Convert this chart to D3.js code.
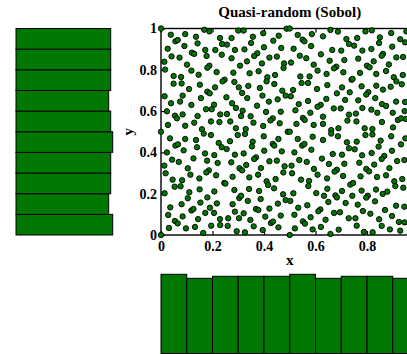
<!DOCTYPE html>
<html><head><meta charset="utf-8">
<script src="https://cdn.jsdelivr.net/npm/d3@7"></script>
<style>html,body{margin:0;padding:0;overflow:hidden;background:#fff;width:407px;height:354px}</style>
</head><body><div id="chart"></div>
<script>
// Points (x, y in data units)
const sobolPoints = [
[0,1],[0.168,0.994],[0.188,0.986],[0.300,0.990],[0.038,0.970],[0.094,0.973],[0.136,0.960],[0.229,0.954],[0.274,0.954],[0.056,0.938],[0.065,0.944],[0.142,0.928],[0.237,0.925],[0.256,0.922],[0.091,0.915],[0.026,0.902],[0.172,0.896],[0.211,0.896],[0.287,0.896],[0.120,0.883],[0.129,0.877],[0.041,0.865],[0.072,0.859],[0.177,0.867],[0.236,0.873],[0.274,0.856],[0.013,0.839],[0.101,0.825],[0.188,0.820],[0.180,0.810],[0.307,0.820],[0.016,0.801],[0.118,0.796],[0.216,0.789],[0.281,0.786],[0.146,0.776],[0.049,0.770],[0.078,0.765],[0.247,0.752],[0.239,0.744],[0.285,0.741],[0.049,0.733],[0.080,0.734],[0.151,0.728],[0.210,0.715],[0.109,0.707],[0.302,0.715],[0.180,0.694],[0.189,0.686],[0.014,0.672],[0.084,0.675],[0.155,0.663],[0.254,0.667],[0.039,0.638],[0.074,0.646],[0.118,0.630],[0.206,0.631],[0.276,0.638],[0.023,0.599],[0.175,0.609],[0.197,0.609],[0.291,0.615],[0.054,0.578],[0.062,0.565],[0.084,0.584],[0.142,0.576],[0.230,0.584],[0.256,0.586],[0.269,0.550],[0.311,0.576],[0.027,0.533],[0.094,0.529],[0.129,0.544],[0.194,0.550],[0.227,0.547],[0.159,0.512],[0.291,0.517],
[0.321,0.990],[0.397,0.977],[0.488,0.999],[0.5,1],[0.531,0.969],[0.586,0.973],[0.629,0.962],[0.357,0.960],[0.457,0.965],[0.436,0.941],[0.350,0.930],[0.550,0.946],[0.557,0.938],[0.400,0.909],[0.467,0.906],[0.515,0.902],[0.583,0.915],[0.324,0.899],[0.374,0.880],[0.362,0.867],[0.421,0.859],[0.450,0.864],[0.539,0.868],[0.564,0.856],[0.621,0.875],[0.334,0.841],[0.392,0.831],[0.478,0.831],[0.505,0.835],[0.476,0.809],[0.593,0.825],[0.344,0.783],[0.379,0.793],[0.608,0.796],[0.413,0.764],[0.410,0.744],[0.443,0.775],[0.541,0.768],[0.577,0.768],[0.440,0.731],[0.546,0.736],[0.571,0.736],[0.384,0.712],[0.339,0.722],[0.471,0.699],[0.513,0.702],[0.606,0.707],[0.315,0.688],[0.394,0.675],[0.484,0.675],[0.504,0.672],[0.335,0.663],[0.453,0.657],[0.419,0.646],[0.535,0.634],[0.571,0.649],[0.373,0.626],[0.620,0.630],[0.608,0.621],[0.522,0.604],[0.317,0.602],[0.465,0.597],[0.408,0.596],[0.580,0.592],[0.348,0.575],[0.434,0.565],[0.425,0.555],[0.551,0.567],[0.558,0.557],[0.461,0.541],[0.359,0.544],[0.526,0.538],[0.593,0.533],[0.397,0.528],[0.329,0.513],[0.629,0.573],[0.629,0.538],
[0.658,0.993],[0.687,0.985],[0.794,0.986],[0.819,0.991],[0.894,0.978],[0.953,0.986],[0.720,0.949],[0.762,0.954],[0.850,0.957],[0.929,0.948],[0.948,0.933],[0.730,0.925],[0.750,0.917],[0.847,0.930],[0.898,0.912],[0.665,0.896],[0.700,0.893],[0.782,0.893],[0.817,0.901],[0.862,0.877],[0.857,0.868],[0.914,0.860],[0.940,0.862],[0.655,0.844],[0.712,0.847],[0.766,0.854],[0.826,0.841],[0.681,0.815],[0.672,0.807],[0.800,0.820],[0.810,0.812],[0.885,0.826],[0.643,0.780],[0.708,0.788],[0.773,0.785],[0.836,0.780],[0.874,0.794],[0.904,0.764],[0.914,0.744],[0.939,0.775],[0.740,0.752],[0.744,0.756],[0.646,0.726],[0.703,0.715],[0.779,0.720],[0.836,0.723],[0.892,0.718],[0.935,0.730],[0.683,0.686],[0.733,0.691],[0.805,0.692],[0.797,0.680],[0.862,0.704],[0.832,0.663],[0.642,0.659],[0.715,0.654],[0.766,0.652],[0.913,0.646],[0.948,0.644],[0.858,0.634],[0.874,0.625],[0.671,0.613],[0.698,0.613],[0.782,0.615],[0.817,0.607],[0.730,0.583],[0.757,0.588],[0.840,0.592],[0.900,0.592],[0.946,0.600],[0.724,0.554],[0.759,0.550],[0.858,0.547],[0.920,0.557],[0.932,0.565],[0.950,0.562],[0.901,0.521],[0.661,0.508],[0.689,0.517],[0.791,0.517],[0.821,0.513],
[0,0.5],[0.166,0.491],[0.194,0.484],[0.298,0.484],[0.035,0.468],[0.094,0.465],[0.136,0.460],[0.224,0.446],[0.268,0.454],[0.056,0.433],[0.066,0.439],[0.140,0.425],[0.236,0.425],[0.255,0.416],[0.088,0.410],[0.023,0.400],[0.171,0.395],[0.207,0.387],[0.287,0.389],[0.043,0.365],[0.069,0.354],[0.126,0.371],[0.179,0.360],[0.220,0.349],[0.273,0.352],[0.013,0.336],[0.104,0.323],[0.186,0.313],[0.176,0.303],[0.305,0.323],[0.018,0.299],[0.114,0.292],[0.214,0.289],[0.278,0.282],[0.149,0.274],[0.045,0.268],[0.082,0.265],[0.246,0.252],[0.250,0.249],[0.053,0.234],[0.076,0.236],[0.150,0.221],[0.207,0.211],[0.110,0.207],[0.285,0.218],[0.014,0.202],[0.104,0.178],[0.180,0.182],[0.304,0.179],[0.311,0.190],[0.080,0.149],[0.153,0.157],[0.217,0.153],[0.036,0.134],[0.118,0.119],[0.126,0.126],[0.190,0.132],[0.278,0.149],[0.028,0.097],[0.172,0.107],[0.206,0.107],[0.287,0.113],[0.054,0.068],[0.065,0.056],[0.084,0.090],[0.144,0.077],[0.229,0.077],[0.261,0.081],[0.259,0.044],[0.303,0.081],[0.031,0.034],[0.097,0.032],[0.132,0.039],[0.195,0.045],[0.230,0.048],[0.164,0.010],[0.294,0.018],[0,0],
[0.326,0.489],[0.399,0.478],[0.492,0.500],[0.5,0.5],[0.531,0.465],[0.589,0.476],[0.629,0.460],[0.356,0.452],[0.353,0.429],[0.456,0.465],[0.434,0.441],[0.440,0.433],[0.548,0.433],[0.557,0.441],[0.401,0.408],[0.469,0.405],[0.518,0.400],[0.584,0.413],[0.321,0.395],[0.369,0.376],[0.362,0.368],[0.421,0.357],[0.450,0.360],[0.537,0.363],[0.566,0.354],[0.625,0.370],[0.331,0.339],[0.388,0.324],[0.480,0.333],[0.507,0.336],[0.475,0.303],[0.509,0.299],[0.594,0.320],[0.315,0.313],[0.343,0.279],[0.377,0.292],[0.608,0.292],[0.410,0.260],[0.416,0.242],[0.445,0.271],[0.544,0.268],[0.575,0.262],[0.439,0.226],[0.572,0.237],[0.342,0.223],[0.381,0.213],[0.474,0.197],[0.514,0.202],[0.603,0.203],[0.633,0.190],[0.337,0.165],[0.387,0.174],[0.484,0.169],[0.502,0.165],[0.369,0.126],[0.378,0.121],[0.454,0.152],[0.533,0.132],[0.568,0.144],[0.421,0.128],[0.619,0.124],[0.611,0.115],[0.321,0.105],[0.518,0.098],[0.405,0.089],[0.465,0.094],[0.581,0.086],[0.347,0.073],[0.427,0.058],[0.435,0.065],[0.551,0.066],[0.559,0.055],[0.360,0.042],[0.456,0.037],[0.520,0.032],[0.621,0.039],[0.395,0.024],[0.589,0.027],[0.326,0.013],[0.5,0],
[0.661,0.491],[0.687,0.478],[0.794,0.484],[0.821,0.487],[0.894,0.478],[0.722,0.449],[0.760,0.452],[0.853,0.457],[0.932,0.439],[0.949,0.468],[0.730,0.420],[0.752,0.415],[0.845,0.428],[0.897,0.408],[0.667,0.392],[0.703,0.389],[0.781,0.386],[0.818,0.397],[0.867,0.383],[0.857,0.368],[0.917,0.358],[0.945,0.363],[0.652,0.344],[0.712,0.345],[0.770,0.350],[0.828,0.341],[0.887,0.324],[0.683,0.316],[0.674,0.307],[0.797,0.320],[0.808,0.308],[0.645,0.274],[0.707,0.286],[0.775,0.284],[0.839,0.281],[0.874,0.289],[0.906,0.260],[0.910,0.237],[0.937,0.271],[0.735,0.244],[0.746,0.252],[0.646,0.224],[0.703,0.213],[0.779,0.215],[0.835,0.220],[0.879,0.210],[0.941,0.229],[0.677,0.192],[0.683,0.182],[0.743,0.190],[0.803,0.190],[0.797,0.181],[0.861,0.199],[0.650,0.160],[0.717,0.155],[0.764,0.147],[0.831,0.163],[0.913,0.142],[0.945,0.137],[0.870,0.121],[0.672,0.107],[0.695,0.110],[0.784,0.116],[0.813,0.103],[0.847,0.076],[0.729,0.081],[0.755,0.081],[0.897,0.092],[0.639,0.074],[0.924,0.063],[0.946,0.061],[0.690,0.026],[0.760,0.045],[0.857,0.044],[0.889,0.027],[0.658,0.005],[0.788,0.015],[0.822,0.013],[0.929,0.021]
];
// Histogram bins and counts
const binStarts = [0,0.1,0.2,0.3,0.4,0.5,0.6,0.7,0.8,0.9];
const binWidth = 0.1;
const xHistCounts = [51,49,50,50,50,51,49,50,50,49];
const yHistCounts = [51,49,50,50,51,50,49,50,50,50];
const tickValues = [0,0.2,0.4,0.6,0.8,1];
const xTickLabels = ["0","0.2","0.4","0.6","0.8",""];   // the "1" lies beyond the visible window
const yTickLabels = ["0","0.2","0.4","0.6","0.8","1"];
const titleText = "Quasi-random (Sobol)";
const xLabel = "x", yLabel = "y";

const green = "#007700";
const font = "'Liberation Serif','Times New Roman',serif";

const svg = d3.select("#chart").append("svg")
  .attr("width", 440).attr("height", 390)
  .style("display","block");

const x = d3.scaleLinear().domain([0,1]).range([161,418.5]);
const y = d3.scaleLinear().domain([0,1]).range([235,28.5]);
const hLen = d3.scaleLinear().domain([0,51]).range([10.7,112.7]);   // left histogram
const hHt = d3.scaleLinear().domain([0,51]).range([376.3,274.3]);   // bottom histogram
const leftPanelEdge = 16, bottomPanelEdge = 353.5;

// Left histogram (y marginal)
svg.append("g").selectAll("rect").data(binStarts).join("rect")
  .attr("x", leftPanelEdge)
  .attr("y", d => y(d + binWidth))
  .attr("width", (d,i) => hLen(yHistCounts[i]) - leftPanelEdge)
  .attr("height", d => y(d) - y(d + binWidth))
  .attr("fill", green).attr("stroke", "#000").attr("stroke-width", 1);

// Bottom histogram (x marginal)
svg.append("g").selectAll("rect").data(binStarts).join("rect")
  .attr("x", d => x(d))
  .attr("y", (d,i) => hHt(xHistCounts[i]))
  .attr("width", d => x(d + binWidth) - x(d))
  .attr("height", (d,i) => bottomPanelEdge - hHt(xHistCounts[i]))
  .attr("fill", green).attr("stroke", "#000").attr("stroke-width", 1);

// Frame
svg.append("rect")
  .attr("x", x(0)).attr("y", y(1))
  .attr("width", x(1) - x(0)).attr("height", y(0) - y(1))
  .attr("fill", "none").attr("stroke", "#000").attr("stroke-width", 1.4);

function styleAxis(g){
  g.select(".domain").remove();
  g.selectAll("line").attr("stroke","#000").attr("stroke-width",1.2);
  g.selectAll("text").attr("font-family", font).attr("font-weight","bold")
    .attr("font-size", 14).attr("fill","#000");
}
svg.append("g").attr("transform", `translate(0,${y(0)})`)
  .call(d3.axisBottom(x).tickValues(tickValues)
    .tickFormat(d => xTickLabels[tickValues.indexOf(d)]).tickSize(-4).tickPadding(6))
  .call(styleAxis);
svg.append("g").attr("transform", `translate(0,${y(1)})`)
  .call(d3.axisTop(x).tickValues(tickValues).tickFormat("").tickSize(-4))
  .call(styleAxis);
svg.append("g").attr("transform", `translate(${x(0)},0)`)
  .call(d3.axisLeft(y).tickValues(tickValues)
    .tickFormat(d => yTickLabels[tickValues.indexOf(d)]).tickSize(-4).tickPadding(4))
  .call(styleAxis);
svg.append("g").attr("transform", `translate(${x(1)},0)`)
  .call(d3.axisRight(y).tickValues(tickValues).tickFormat("").tickSize(-4))
  .call(styleAxis);

// Points
svg.append("g").selectAll("circle").data(sobolPoints).join("circle")
  .attr("cx", d => x(d[0])).attr("cy", d => y(d[1]))
  .attr("r", 2.7)
  .attr("fill", green).attr("stroke", "#000").attr("stroke-width", 0.9);

// Title and axis labels
svg.append("text").attr("x", (x(0)+x(1))/2).attr("y", 17)
  .attr("text-anchor","middle").attr("font-family", font).attr("font-weight","bold")
  .attr("font-size", 15).text(titleText);
svg.append("text").attr("x", (x(0)+x(1))/2).attr("y", 265)
  .attr("text-anchor","middle").attr("font-family", font).attr("font-weight","bold")
  .attr("font-size", 15).text(xLabel);
svg.append("text").attr("transform", `translate(133,${(y(0)+y(1))/2}) rotate(-90)`)
  .attr("text-anchor","middle").attr("font-family", font).attr("font-weight","bold")
  .attr("font-size", 15).text(yLabel);
</script>
</body></html>
